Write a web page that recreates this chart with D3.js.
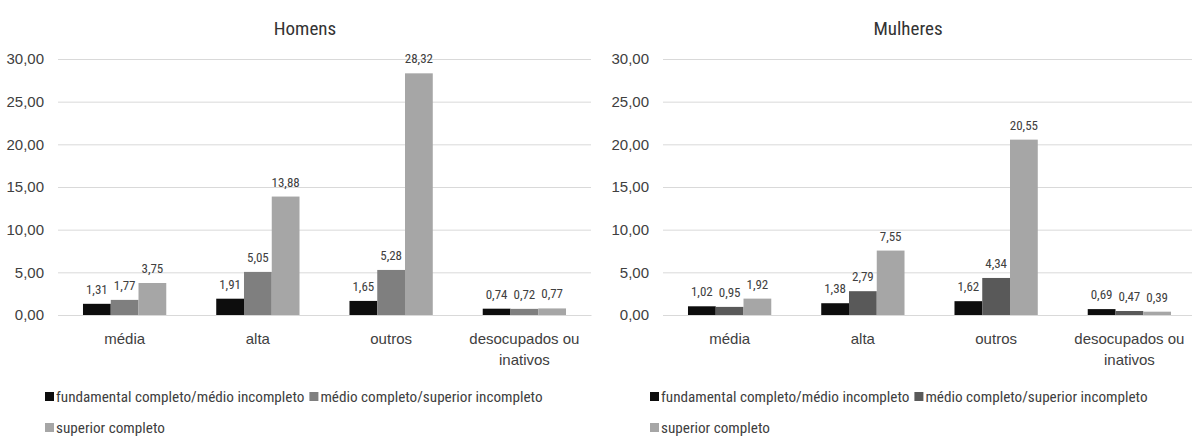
<!DOCTYPE html>
<html><head><meta charset="utf-8">
<script src="https://cdn.jsdelivr.net/npm/d3@7"></script>
<style>
body{margin:0;background:#fff;}
svg{display:block;font-family:"Liberation Sans Narrow","Roboto Condensed","DejaVu Sans Condensed",Roboto,sans-serif;}
</style></head><body>
<svg id="c" width="1192" height="438"></svg>
<script>
const categories = ["média", "alta", "outros", "desocupados ou inativos"];
const seriesNames = ["fundamental completo/médio incompleto", "médio completo/superior incompleto", "superior completo"];
const homensFund = [1.31, 1.91, 1.65, 0.74];
const homensMedio = [1.77, 5.05, 5.28, 0.72];
const homensSup = [3.75, 13.88, 28.32, 0.77];
const mulheresFund = [1.02, 1.38, 1.62, 0.69];
const mulheresMedio = [0.95, 2.79, 4.34, 0.47];
const mulheresSup = [1.92, 7.55, 20.55, 0.39];
const yTicks = [0, 5, 10, 15, 20, 25, 30];

const svg = d3.select("#c");
const fmt = v => d3.format(".2f")(v).replace(".", ",");

const panels = [
  {title: "Homens", data: [homensFund, homensMedio, homensSup], colors: ["#0d0d0d", "#7f7f7f", "#a6a6a6"], x0: 58, x1: 591, titleX: 305, legendX: 45},
  {title: "Mulheres", data: [mulheresFund, mulheresMedio, mulheresSup], colors: ["#0d0d0d", "#595959", "#a6a6a6"], x0: 663, x1: 1196, titleX: 908, legendX: 650}
];

panels.forEach(p => {
  const g = svg.append("g");
  const y = d3.scaleLinear().domain([0, 30]).range([315, 59]);
  const x = d3.scaleBand().domain(categories).range([p.x0, p.x1]).paddingInner(0.375).paddingOuter(0.1875);
  const xs = d3.scaleBand().domain(d3.range(3)).range([0, x.bandwidth()]);

  g.append("text").attr("x", p.titleX).attr("y", 35).attr("text-anchor", "middle")
    .attr("font-size", 19).attr("fill", "#333").text(p.title);

  // grid
  const ax = d3.axisLeft(y).tickValues(yTicks).tickSize(-(p.x1 - p.x0)).tickFormat(fmt).tickPadding(14);
  const ag = g.append("g").attr("transform", `translate(${p.x0},0)`).call(ax);
  ag.select(".domain").remove();
  ag.selectAll(".tick line").attr("stroke", "#d9d9d9").attr("stroke-width", 1);
  ag.selectAll(".tick text").attr("font-size", 15).attr("fill", "#404040").attr("font-family", null);

  // bars
  p.data.forEach((vals, si) => {
    g.selectAll(null).data(vals).enter().append("rect")
      .attr("x", (d, i) => x(categories[i]) + xs(si))
      .attr("width", xs.bandwidth())
      .attr("y", d => y(d))
      .attr("height", d => y(0) - y(d))
      .attr("fill", p.colors[si]);
    g.selectAll(null).data(vals).enter().append("text")
      .attr("x", (d, i) => x(categories[i]) + xs(si) + xs.bandwidth() / 2)
      .attr("y", d => y(d) - 10)
      .attr("text-anchor", "middle").attr("font-size", 13).attr("fill", "#404040")
      .text(d => fmt(d));
  });

  // category labels
  const xa = d3.axisBottom(x).tickSize(0).tickPadding(0).tickFormat("");
  const xg = g.append("g").attr("transform", "translate(0,315)").call(xa);
  xg.select(".domain").attr("stroke", "#d9d9d9");
  xg.selectAll(".tick").each(function(d) {
    const t = d3.select(this).append("text").attr("text-anchor", "middle")
      .attr("font-size", 15).attr("fill", "#404040");
    const lines = d === "desocupados ou inativos" ? ["desocupados ou", "inativos"] : [d];
    lines.forEach((l, i) => t.append("tspan").attr("x", 0).attr("y", 29 + i * 21).text(l));
  });

  // legend
  const lg = g.append("g");
  let cx = p.legendX;
  const rows = [[0, 1], [2]];
  rows.forEach((r, ri) => {
    cx = p.legendX;
    const yy = 397 + ri * 31;
    r.forEach(si => {
      lg.append("rect").attr("x", cx).attr("y", yy - 5).attr("width", 9).attr("height", 9).attr("fill", p.colors[si]);
      const t = lg.append("text").attr("x", cx + 11).attr("y", yy + 5).attr("font-size", 15.2).attr("fill", "#404040").text(seriesNames[si]);
      cx += 11 + t.node().getComputedTextLength() + 5;
    });
  });
});
</script>
</body></html>
